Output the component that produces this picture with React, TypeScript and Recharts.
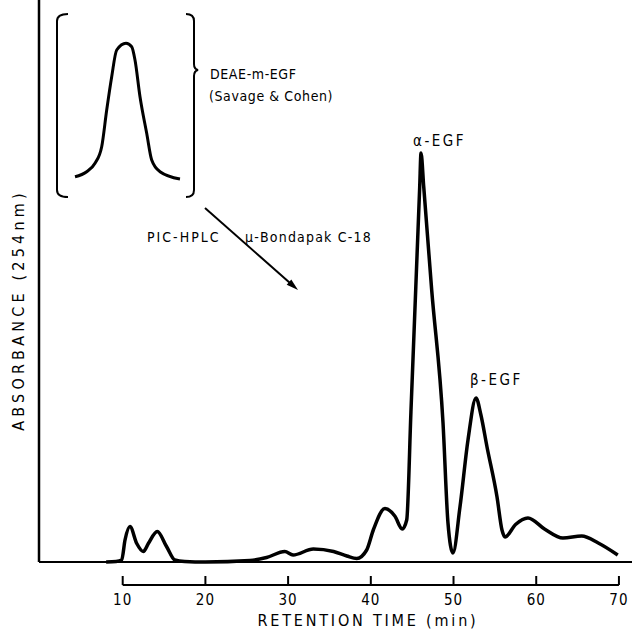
import React from 'react';
import { LineChart, Line, XAxis, YAxis, ReferenceLine } from 'recharts';

// Main chromatogram (PIC-HPLC, μ-Bondapak C-18)
const retentionTime = [8, 9.2, 9.88, 10.28, 10.88, 11.7, 12.49, 13.1, 14.18, 15.3, 16.3, 17.5, 20, 25.4, 27.4, 29.6, 30.6, 33.05, 35.5, 37.1, 38.3, 39.5, 40.3, 41.71, 42.9, 43.8, 44.34, 44.85, 45.44, 45.91, 46.07, 46.4, 47.36, 48.73, 49.33, 49.93, 50.78, 51.75, 52.72, 53.3, 54.05, 55.26, 55.86, 56.23, 57.5, 59.0, 61.0, 63.23, 65.5, 67.5, 69.86];
const absorbance = [0, 0.1, 0.4, 4.4, 7.1, 3.7, 2.1, 3.7, 6.1, 3.1, 0.4, 0.1, 0, 0.3, 0.9, 2.1, 1.4, 2.6, 2.1, 1.2, 0.7, 2.4, 6.4, 10.7, 9.2, 6.6, 8.4, 30, 55, 75, 81.8, 75, 54.4, 27.8, 7.8, 1.8, 11, 24.4, 32.8, 29.5, 23, 13, 6.4, 5, 7.5, 8.8, 6.6, 4.8, 5.2, 3.8, 1.4];

// Inset: DEAE-m-EGF (Savage & Cohen)
const insetPosition = [0, 11.7, 20, 26.7, 31.7, 36.7, 41.7, 51, 56.7, 60, 65, 71.7, 76.7, 85, 105];
const insetAbsorbance = [2.3, 7.3, 15.7, 32.3, 69, 102.3, 129, 135.7, 132.3, 119, 82.3, 45.7, 19, 7.3, 0];

const xTicks = [10, 20, 30, 40, 50, 60, 70];

const mainData = retentionTime.map((t, i) => ({ t, abs: absorbance[i] }));
const insetData = insetPosition.map((p, i) => ({ p, abs: insetAbsorbance[i] }));

const FONT = "'DejaVu Sans Condensed', 'DejaVu Sans', sans-serif";
const X_MIN = -0.12;
const X_MAX = 71.58;
const Y_MIN = -4.6;
const Y_MAX = 112.4;

export default function App() {
  return (
    <div style={{ position: 'absolute', left: 0, top: 0, width: 632, height: 632, background: '#fff' }}>
      <LineChart width={632} height={632} data={mainData} margin={{ top: 0, right: 0, left: 39, bottom: 0 }}>
        <XAxis
          dataKey="t"
          type="number"
          domain={[X_MIN, X_MAX]}
          ticks={xTicks}
          allowDataOverflow
          axisLine={false}
          tickLine={false}
          height={47}
          tickMargin={3}
          tick={{ fontSize: 15, fill: '#000', fontFamily: FONT, letterSpacing: 1 }}
        />
        <YAxis hide type="number" domain={[Y_MIN, Y_MAX]} allowDataOverflow />
        <ReferenceLine y={0} stroke="#000" strokeWidth={2} ifOverflow="visible" />
        <ReferenceLine segment={[{ x: X_MIN, y: 0 }, { x: X_MIN, y: Y_MAX }]} stroke="#000" strokeWidth={2.5} ifOverflow="visible" />
        <ReferenceLine segment={[{ x: 10, y: Y_MIN }, { x: 70, y: Y_MIN }]} stroke="#000" strokeWidth={2} ifOverflow="visible" />
        {xTicks.map((t) => (
          <ReferenceLine key={t} segment={[{ x: t, y: Y_MIN }, { x: t, y: -2.8 }]} stroke="#000" strokeWidth={2} ifOverflow="visible" />
        ))}
        <Line dataKey="abs" type="monotone" stroke="#000" strokeWidth={3.5} dot={false} isAnimationActive={false} />
      </LineChart>

      <div style={{ position: 'absolute', left: 70, top: 38 }}>
        <LineChart width={115} height={146} data={insetData} margin={{ top: 5, right: 5, left: 5, bottom: 5 }}>
          <XAxis hide dataKey="p" type="number" domain={[0, 105]} />
          <YAxis hide type="number" domain={[0, 136]} />
          <Line dataKey="abs" type="monotone" stroke="#000" strokeWidth={3} dot={false} isAnimationActive={false} />
        </LineChart>
      </div>

      <svg width={632} height={632} style={{ position: 'absolute', left: 0, top: 0, pointerEvents: 'none' }}>
        <g fill="none" stroke="#000" strokeWidth={2}>
          <path d="M68,14 Q57,14 57,21 L57,190 Q57,197 68,197" />
          <path d="M186,14 Q194,14 194,21 L194,64 Q194,69 198,70 Q194,71 194,76 L194,190 Q194,197 186,197" />
          <line x1={205} y1={208} x2={290} y2={283} />
        </g>
        <polygon points="298,290 286.7,284.7 291.3,279.5" fill="#000" />
        <g fontFamily={FONT} fontSize={14} fill="#000">
          <text x={210} y={74} dominantBaseline="central" letterSpacing={0.6}>DEAE-m-EGF</text>
          <text x={209} y={96} dominantBaseline="central" letterSpacing={0.6}>(Savage &amp; Cohen)</text>
          <text x={147} y={237} dominantBaseline="central" letterSpacing={2}>PIC-HPLC</text>
          <text x={245} y={237} dominantBaseline="central" letterSpacing={1.2}>μ-Bondapak C-18</text>
          <text x={413} y={141} dominantBaseline="central" fontSize={15} letterSpacing={2.5}>α-EGF</text>
          <text x={470} y={380} dominantBaseline="central" fontSize={15} letterSpacing={2.5}>β-EGF</text>
          <text x={368} y={620} dominantBaseline="central" textAnchor="middle" fontSize={16} letterSpacing={2.8}>RETENTION TIME (min)</text>
          <text x={18} y={310} dominantBaseline="central" textAnchor="middle" fontSize={16} letterSpacing={4.2} transform="rotate(-90 18 310)">ABSORBANCE (254nm)</text>
        </g>
      </svg>
    </div>
  );
}
